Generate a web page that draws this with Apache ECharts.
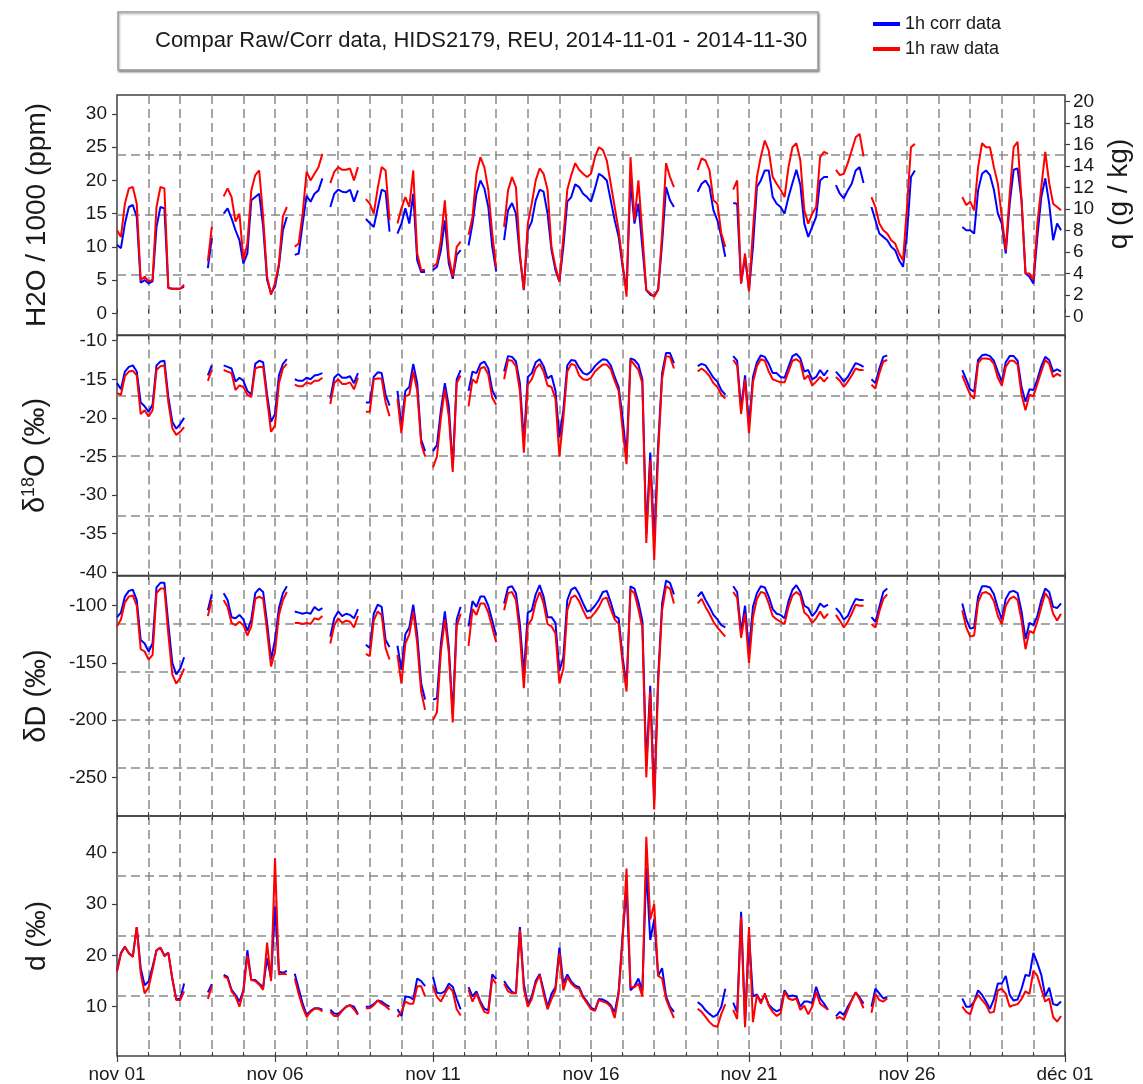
<!DOCTYPE html>
<html>
<head>
<meta charset="utf-8">
<script src="https://cdn.jsdelivr.net/npm/echarts@6/dist/echarts.min.js"></script>
<style>
  html, body { margin: 0; padding: 0; background: #ffffff; }
  #chart { width: 1143px; height: 1084px; }
</style>
</head>
<body>
<div id="chart"></div>
<script>
// Hourly station record resampled to one value every 3 hours, 1 Nov 00:00 -> 30 Nov 21:00.
// One row of 8 values per day; null = no measurement.
const STEP_HOURS = 3;
const dayLabels = ['nov 01', 'nov 06', 'nov 11', 'nov 16', 'nov 21', 'nov 26', 'déc 01'];
const h2oTicks = [0, 5, 10, 15, 20, 25, 30];
const qTicks = [0, 2, 4, 6, 8, 10, 12, 14, 16, 18, 20];
const d18oTicks = [-40, -35, -30, -25, -20, -15, -10];
const dDTicks = [-250, -200, -150, -100];
const dexTicks = [10, 20, 30, 40];

// H2O / 1000 (ppm)
const h2oCorr = [
  10.3, 9.8, 13.5, 16.0, 16.3, 14.5, 4.6, 5.0,
  4.5, 4.8, 13.0, 16.0, 15.8, 3.8, 3.7, 3.7,
  3.7, 4.0, null, null, null, null, null, 6.8,
  11.3, null, null, 15.0, 15.8, 14.3, 12.5, 11.0,
  7.5, 9.0, 17.0, 17.5, 18.0, 13.0, 5.0, 3.0,
  4.0, 7.2, 12.5, 14.5, null, 8.8, 9.0, 13.5,
  17.7, 16.8, 18.0, 18.5, 20.3, null, 16.0, 18.0,
  18.6, 18.3, 18.2, 18.6, 16.8, 18.5, null, 14.2,
  13.6, 13.0, 15.8, 18.6, 18.3, 12.3, null, 12.0,
  13.5, 15.8, 13.5, 18.0, 8.0, 6.2, 6.2, null,
  6.5, 7.0, 9.5, 14.0, 7.5, 5.2, 8.8, 9.5,
  null, 10.2, 13.5, 18.0, 20.0, 18.8, 16.0, 10.0,
  6.3, null, 11.0, 15.5, 16.6, 15.0, 8.5, 3.5,
  12.5, 13.8, 17.0, 18.6, 18.3, 15.0, 9.5, 6.5,
  4.8, 10.0, 16.8, 17.5, 19.4, 19.0, 18.0, 17.5,
  16.8, 18.8, 21.0, 20.6, 20.0, 17.0, 14.0, 11.5,
  7.0, 3.5, 20.0, 13.5, 16.5, 10.0, 3.5, 2.8,
  2.6, 3.6, 10.5, 19.0, 17.0, 16.0, null, null,
  null, null, null, 18.3, 19.5, 20.0, 19.0, 15.5,
  14.0, 11.5, 8.5, null, 16.6, 16.5, 4.5, 8.5,
  3.5, 10.0, 19.0, 20.0, 21.5, 21.5, 17.5, 16.5,
  16.0, 15.0, 17.5, 19.6, 21.6, 19.3, 13.5, 11.5,
  13.0, 14.5, 20.0, 20.5, 20.5, null, 19.3, 18.0,
  17.3, 18.5, 19.5, 21.5, 22.0, 19.6, null, 16.0,
  14.0, 12.0, 11.5, 11.0, 10.0, 9.5, 8.0, 7.0,
  12.0, 20.5, 21.5, null, null, null, null, null,
  null, null, null, null, null, null, 13.0, 12.5,
  12.5, 12.0, 18.5, 21.0, 21.5, 20.8, 18.6, 15.0,
  13.5, 9.0, 16.5, 21.6, 21.8, 17.0, 6.0, 5.5,
  4.5, 11.5, 17.5, 20.3, 16.5, 11.0, 13.5, 12.5
];
const h2oRaw = [
  12.5, 11.5, 16.5, 18.8, 19.0, 16.5, 5.0, 5.5,
  4.8, 5.0, 16.0, 19.0, 18.8, 3.8, 3.7, 3.7,
  3.7, 4.3, null, null, null, null, null, 7.8,
  13.0, null, null, 17.6, 18.8, 17.5, 13.8, 15.0,
  8.0, 10.5, 18.5, 20.8, 21.5, 14.5, 5.5, 2.8,
  4.5, 7.5, 14.6, 16.0, null, 10.0, 10.5, 15.0,
  21.3, 20.0, 21.0, 22.0, 24.0, null, 19.6, 21.3,
  22.0, 21.6, 21.6, 21.8, 20.0, 22.0, null, 17.2,
  16.5, 15.0, 18.8, 22.0, 21.5, 14.0, null, 13.5,
  15.8, 17.5, 16.0, 21.5, 9.0, 6.5, 6.5, null,
  7.0, 7.5, 11.0, 17.0, 8.5, 5.5, 10.0, 10.8,
  null, 11.8, 14.5, 21.0, 23.5, 22.0, 18.6, 12.0,
  6.8, null, 13.0, 18.5, 20.5, 19.0, 9.0, 3.5,
  13.5, 16.5, 20.0, 21.8, 21.0, 18.6, 10.0, 7.0,
  4.8, 11.5, 18.6, 20.8, 22.6, 21.6, 21.0, 20.5,
  21.0, 23.5, 25.0, 24.6, 23.0, 19.5, 16.0, 12.5,
  7.5, 2.5, 23.5, 14.0, 20.0, 12.0, 3.5, 3.0,
  2.5, 3.5, 12.0, 22.6, 20.5, 19.0, null, null,
  null, null, null, 21.6, 23.3, 23.0, 21.5, 17.0,
  16.5, 12.0, 10.0, null, 18.6, 20.0, 4.5, 9.0,
  3.3, 12.5, 20.5, 23.6, 26.0, 24.5, 20.5, 19.5,
  18.6, 17.5, 22.0, 25.0, 25.6, 23.0, 15.5, 13.5,
  15.0, 16.0, 23.5, 24.3, 24.0, null, 21.6, 20.8,
  21.0, 22.6, 24.5, 26.5, 27.0, 23.6, null, 17.5,
  16.0, 13.5, 12.5, 12.0, 11.0, 10.5, 9.0, 8.0,
  16.0, 25.0, 25.5, null, null, null, null, null,
  null, null, null, null, null, null, 17.5, 16.3,
  16.8, 15.5, 22.0, 25.6, 25.0, 25.0, 22.0, 19.5,
  14.5, 9.5, 18.0, 25.0, 25.8, 17.0, 6.0, 6.0,
  5.0, 13.5, 19.0, 24.3, 19.6, 16.5, 16.0, 15.5
];

// delta 18O (permil)
const d18oCorr = [
  -15.5, -16.3, -14.0, -13.4, -13.2, -14.0, -18.0, -18.5,
  -19.2, -18.3, -13.2, -12.7, -12.6, -17.3, -20.5, -21.4,
  -20.8, -20.0, null, null, null, null, null, -14.5,
  -13.2, null, null, -13.2, -13.4, -13.6, -15.3, -14.8,
  -15.2, -16.5, -17.0, -13.0, -12.6, -12.8, -17.0, -20.5,
  -19.5, -14.5, -13.0, -12.4, null, -15.0, -15.2, -15.2,
  -14.8, -15.0, -14.5, -14.4, -14.2, null, -17.5, -14.8,
  -14.3, -14.8, -14.8, -14.6, -15.5, -14.2, null, -18.0,
  -18.0, -14.7, -14.1, -14.2, -17.0, -18.4, null, -16.5,
  -21.1, -16.5, -16.0, -13.0, -15.5, -22.8, -24.3, null,
  -24.3, -23.5, -19.0, -15.5, -18.5, -26.5, -15.0, -13.8,
  null, -16.5, -14.0, -14.2, -13.0, -12.7, -13.6, -16.4,
  -17.5, null, -14.0, -12.0, -12.1, -12.7, -15.5, -23.0,
  -14.7, -14.2, -12.8, -12.4, -13.3, -14.9, -14.5, -16.5,
  -22.5, -19.0, -13.2, -12.5, -12.6, -13.5, -14.2, -14.4,
  -14.0, -13.3, -12.8, -12.4, -12.5, -13.2, -14.7, -16.0,
  -20.0, -25.0, -12.3, -12.5, -13.1, -15.0, -35.0, -24.5,
  -36.0, -23.5, -14.2, -11.6, -11.6, -12.9, null, null,
  null, null, null, -13.3, -13.0, -13.2, -14.0, -14.8,
  -15.3, -16.4, -17.0, null, -12.0, -12.6, -18.8, -14.5,
  -21.0, -14.7, -12.8, -11.9, -12.1, -13.0, -14.2, -14.2,
  -14.7, -14.8, -13.4, -12.0, -11.7, -12.3, -14.0, -13.8,
  -15.0, -14.7, -13.8, -14.5, -13.8, null, -14.0, -14.6,
  -15.3, -14.7, -13.8, -12.9, -13.1, -13.4, null, -15.0,
  -15.5, -13.6, -12.1, -11.9, null, null, null, null,
  null, null, null, null, null, null, null, null,
  null, null, null, null, null, null, -13.8, -15.0,
  -16.3, -16.6, -12.5, -11.9, -11.8, -12.0, -12.6, -14.0,
  -15.3, -12.8, -12.0, -12.0, -12.6, -16.0, -17.9, -16.3,
  -16.4, -15.0, -13.3, -12.1, -12.5, -14.0, -13.7, -14.0
];
const d18oRaw = [
  -16.8, -17.0, -14.6, -14.0, -13.9, -14.5, -19.5, -19.0,
  -19.8, -19.0, -13.8, -13.3, -13.2, -18.0, -21.3, -22.2,
  -21.8, -21.2, null, null, null, null, null, -15.2,
  -13.8, null, null, -13.8, -14.0, -14.2, -16.4, -15.8,
  -16.0, -17.0, -17.3, -13.6, -13.4, -13.4, -17.6, -21.8,
  -21.0, -15.5, -13.6, -13.0, null, -15.7, -15.9, -15.9,
  -15.4, -15.6, -15.2, -15.2, -14.8, null, -18.2, -15.5,
  -15.0, -15.6, -15.6, -15.4, -16.3, -14.8, null, -19.2,
  -19.2, -15.0, -14.9, -14.9, -18.0, -19.8, null, -17.5,
  -22.0, -17.2, -17.0, -14.0, -16.5, -23.3, -25.0, null,
  -26.4, -25.0, -20.0, -16.3, -19.8, -27.0, -15.5, -14.5,
  null, -18.5, -15.0, -15.5, -13.6, -13.4, -14.4, -17.4,
  -18.3, null, -15.0, -12.5, -12.6, -13.3, -16.5, -24.5,
  -15.7, -15.0, -13.6, -13.0, -14.0, -15.8, -16.0, -17.5,
  -25.0, -20.0, -14.0, -13.0, -13.2, -14.5, -15.0, -15.1,
  -14.8, -14.0, -13.5, -13.1, -13.1, -13.7, -15.2, -16.5,
  -21.5, -26.0, -12.5, -13.1, -13.8, -15.5, -36.2, -25.5,
  -38.4, -24.6, -14.9, -12.0, -12.1, -13.6, null, null,
  null, null, null, -14.0, -13.6, -14.0, -14.6, -15.5,
  -16.0, -17.0, -17.5, null, -12.5, -13.2, -19.5, -15.0,
  -22.0, -15.4, -13.3, -12.4, -12.6, -14.0, -15.0, -15.2,
  -15.4, -15.4, -14.0, -12.6, -12.4, -12.8, -15.0, -14.5,
  -15.8, -15.3, -14.7, -15.3, -14.7, null, -14.7, -15.2,
  -16.0, -15.3, -14.5, -13.6, -13.8, -13.8, null, -15.7,
  -16.2, -14.2, -12.7, -12.5, null, null, null, null,
  null, null, null, null, null, null, null, null,
  null, null, null, null, null, null, -14.5, -15.8,
  -17.0, -17.5, -12.9, -12.3, -12.3, -12.4, -13.0, -14.8,
  -15.8, -13.4, -12.6, -12.6, -13.1, -17.0, -19.0, -17.0,
  -17.2, -15.6, -14.0, -12.5, -13.0, -14.7, -14.3, -14.6
];

// delta D (permil)
const dDCorr = [
  -110, -106, -92, -87, -86, -95, -130, -133,
  -140, -133, -84, -80, -80, -116, -150, -160,
  -155, -145, null, null, null, null, null, -104,
  -90, null, null, -89, -95, -110, -111, -108,
  -112, -122, -112, -89, -85, -88, -115, -147,
  -130, -102, -89, -83, null, -105, -106, -107,
  -106, -107, -101, -104, -102, null, -127, -111,
  -105, -109, -107, -108, -111, -103, null, -134,
  -137, -107, -99, -101, -130, -136, null, -135,
  -156, -125, -119, -99, -125, -168, -182, null,
  -182, -181, -133, -105, -136, -195, -112, -101,
  null, -118, -96, -101, -92, -92, -100, -113,
  -126, null, -98, -84, -83, -89, -116, -160,
  -106, -104, -90, -82, -92, -110, -110, -115,
  -157, -145, -95, -86, -84, -90, -98, -105,
  -104, -100, -95, -88, -87, -97, -109, -111,
  -145, -170, -83, -85, -97, -113, -240, -170,
  -270, -162, -98, -78, -80, -90, null, null,
  null, null, null, -92, -88, -95, -101, -108,
  -112, -117, -119, null, -83, -88, -123, -100,
  -140, -101, -89, -83, -84, -92, -103, -107,
  -108, -111, -96, -86, -82, -88, -100, -102,
  -109, -105, -98, -101, -99, null, -102, -106,
  -112, -109, -101, -94, -95, -95, null, -110,
  -114, -101, -88, -85, null, null, null, null,
  null, null, null, null, null, null, null, null,
  null, null, null, null, null, null, -98, -112,
  -120, -119, -92, -83, -83, -84, -90, -102,
  -112, -94, -88, -87, -89, -105, -129, -115,
  -117, -109, -95, -85, -88, -101, -102, -98
];
const dDRaw = [
  -118, -112, -97, -92, -91, -100, -138, -140,
  -147, -143, -89, -85, -85, -125, -160, -168,
  -163, -155, null, null, null, null, null, -109,
  -95, null, null, -95, -101, -115, -117, -114,
  -117, -126, -118, -94, -92, -94, -122, -153,
  -140, -108, -95, -88, null, -115, -115, -116,
  -115, -116, -111, -112, -109, null, -133, -117,
  -111, -115, -113, -114, -119, -109, null, -142,
  -144, -113, -105, -108, -137, -147, null, -143,
  -168, -133, -125, -105, -133, -175, -191, null,
  -200, -193, -140, -112, -141, -202, -118, -107,
  null, -135, -103, -108, -98, -98, -106, -119,
  -132, null, -104, -89, -88, -95, -125, -172,
  -117, -112, -97, -88, -98, -116, -118, -124,
  -168, -155, -104, -93, -91, -96, -104, -111,
  -110, -106, -101, -94, -93, -103, -112, -116,
  -150, -175, -86, -89, -103, -119, -250, -175,
  -278, -168, -104, -83, -85, -98, null, null,
  null, null, null, -98, -94, -101, -107, -114,
  -119, -123, -127, null, -88, -93, -128, -107,
  -150, -110, -94, -88, -89, -98, -109, -112,
  -114, -116, -101, -91, -88, -91, -106, -109,
  -115, -111, -105, -111, -107, null, -108, -113,
  -119, -114, -107, -99, -100, -100, null, -116,
  -119, -105, -94, -90, null, null, null, null,
  null, null, null, null, null, null, null, null,
  null, null, null, null, null, null, -104, -119,
  -127, -126, -97, -89, -88, -90, -96, -109,
  -116, -100, -94, -92, -95, -113, -138, -122,
  -124, -114, -101, -89, -94, -107, -113, -107
];

// deuterium excess d (permil)
const dexCorr = [
  17.1, 20.5, 21.7, 20.4, 19.8, 25.5, 17.5, 14.2,
  14.9, 17.8, 21.0, 21.5, 20.0, 20.5, 15.5, 11.5,
  11.5, 14.5, null, null, null, null, null, 12.8,
  14.4, null, null, 16.2, 15.8, 13.3, 12.3, 11.0,
  13.2, 21.0, 15.2, 15.2, 14.5, 13.8, 19.5, 15.5,
  29.5, 16.8, 16.6, 17.0, null, 16.4, 13.5, 10.6,
  8.4, 9.2, 9.7, 9.7, 9.4, null, 9.4, 8.7,
  8.6, 9.3, 10.0, 10.3, 10.0, 8.6, null, 10.0,
  10.0, 10.5, 11.2, 11.0, 10.4, 10.0, null, 9.5,
  8.2, 12.0, 11.9, 11.4, 15.5, 15.0, 14.0, null,
  15.8, 12.7, 12.6, 13.0, 14.5, 13.9, 11.5, 9.5,
  null, 13.8, 12.0, 13.0, 11.0, 9.6, 9.3, 16.3,
  15.4, null, 15.0, 13.8, 12.9, 12.6, 25.5, 14.5,
  10.4, 12.0, 15.0, 16.4, 13.2, 10.0, 12.5, 13.8,
  21.5, 14.5, 16.3, 14.9, 14.1, 13.8, 12.0, 11.0,
  9.8, 9.4, 11.5, 11.4, 11.0, 10.3, 8.9, 13.0,
  24.0, 33.0, 13.2, 14.0, 15.5, 13.1, 37.0, 23.0,
  27.0, 16.0, 17.5, 12.0, 10.0, 9.0, null, null,
  null, null, null, 10.9, 10.3, 9.3, 8.6, 8.0,
  8.5, 10.0, 13.5, null, 10.8, 8.9, 28.5, 7.0,
  24.0, 12.0, 12.4, 11.0, 12.3, 10.4, 9.6, 9.1,
  9.5, 13.2, 12.0, 12.2, 12.0, 10.0, 11.0, 11.0,
  10.7, 13.9, 11.6, 10.6, 9.4, null, 8.1, 9.0,
  8.4, 10.0, 11.3, 12.8, 11.8, 10.6, null, 10.0,
  13.5, 12.6, 11.6, 11.9, null, null, null, null,
  null, null, null, null, null, null, null, null,
  null, null, null, null, null, null, 11.6, 10.0,
  10.0, 11.0, 13.2, 12.3, 11.0, 9.6, 11.5, 14.5,
  14.5, 16.0, 12.3, 11.2, 11.4, 13.5, 16.2, 16.0,
  20.5, 18.5, 16.2, 12.0, 13.7, 10.5, 10.3, 11.0
];
const dexRaw = [
  16.8, 20.3, 21.7, 20.4, 19.7, 25.5, 16.5, 12.6,
  13.8, 17.2, 21.0, 21.5, 19.8, 20.5, 15.5, 11.3,
  11.3, 13.0, null, null, null, null, null, 11.5,
  14.0, null, null, 15.9, 15.5, 13.0, 12.0, 10.0,
  13.0, 20.0, 15.2, 15.0, 14.3, 13.3, 22.5, 15.0,
  38.9, 16.3, 16.4, 16.3, null, 15.5, 12.5, 9.9,
  8.0, 9.0, 9.6, 9.6, 9.1, null, 9.0, 8.2,
  8.2, 9.2, 10.0, 10.3, 9.5, 8.4, null, 9.7,
  9.7, 10.3, 11.2, 10.6, 10.1, 9.4, null, 8.0,
  9.0, 11.0, 10.6, 10.6, 14.0, 14.0, 12.0, null,
  14.0, 11.9, 11.0, 12.5, 13.9, 13.0, 9.5, 8.3,
  null, 13.3, 11.0, 12.6, 10.6, 9.0, 8.7, 15.5,
  14.5, null, 14.5, 13.0, 12.6, 12.6, 25.0, 13.5,
  10.0, 11.5, 14.5, 16.2, 12.5, 9.5, 11.5, 13.2,
  20.5, 13.2, 15.8, 14.5, 13.8, 13.5, 11.8, 10.7,
  9.5, 9.2, 11.3, 11.0, 10.7, 10.0, 7.8, 12.5,
  23.0, 36.9, 13.8, 13.8, 14.5, 12.0, 43.1, 27.0,
  30.0, 16.0, 15.5, 11.5, 9.6, 7.8, null, null,
  null, null, null, 9.6, 9.0, 8.0, 7.0, 6.3,
  6.1, 8.6, 10.5, null, 9.4, 7.6, 27.5, 6.0,
  25.5, 7.0, 12.3, 10.6, 12.6, 10.2, 9.0, 8.2,
  8.7, 12.9, 11.6, 11.3, 11.6, 9.4, 10.2, 8.5,
  10.0, 12.9, 10.6, 10.0, 9.4, null, 7.7, 8.0,
  7.5, 9.4, 11.3, 12.8, 11.5, 9.7, null, 8.8,
  12.5, 11.3, 11.0, 11.6, null, null, null, null,
  null, null, null, null, null, null, null, null,
  null, null, null, null, null, null, 10.0, 9.0,
  8.5, 11.0, 12.3, 11.3, 10.4, 8.8, 9.0, 13.2,
  13.5, 12.5, 10.0, 10.3, 10.5, 11.5, 13.0, 12.5,
  17.0, 16.0, 13.4, 11.0, 11.6, 8.0, 7.1, 8.2
];

// ---------------------------------------------------------------------------
const FONT = "'Liberation Sans', Arial, Helvetica, sans-serif";
const INK = '#1a1a1a';
const FRAME = '#404040';
const DASH = { color: '#8a8a8a', width: 1.5, type: [9, 5] };
const CORR_COLOR = '#0000ff';
const RAW_COLOR = '#ff0000';

const gridTops = [95, 335.5, 576, 816];
const gridHeight = 240;

const panels = [
  { corr: h2oCorr, raw: h2oRaw, min: -3.27, max: 32.86, ticks: h2oTicks, rows: 4,
    name: 'H2O / 1000 (ppm)', nameSize: 28 },
  { corr: d18oCorr, raw: d18oRaw, min: -40.41, max: -9.33, ticks: d18oTicks, rows: 4,
    name: '{a|δ}{s|18}{a|O (‰)}', nameSize: 29 },
  { corr: dDCorr, raw: dDRaw, min: -283.8, max: -74.0, ticks: dDTicks, rows: 5,
    name: 'δD (‰)', nameSize: 29 },
  { corr: dexCorr, raw: dexRaw, min: 0.4, max: 47.15, ticks: dexTicks, rows: 4,
    name: 'd (‰)', nameSize: 28 }
];

function toPoints(values) {
  return values.map((v, i) => [i * STEP_HOURS / 24, v]);
}

const grids = [];
const xAxes = [];
const yAxes = [];
const series = [];

panels.forEach((p, k) => {
  grids.push({
    left: 117, right: 78, top: gridTops[k], height: gridHeight,
    show: true, borderColor: FRAME, borderWidth: 1.5, backgroundColor: 'transparent'
  });

  // daily dashed grid + inner ticks at the bottom edge
  const xMain = xAxes.length;
  xAxes.push({
    gridIndex: k, type: 'value', min: 0, max: 30, interval: 1, position: 'bottom',
    axisLine: { show: false },
    axisTick: { show: true, inside: true, length: 4, lineStyle: { color: FRAME, width: 1 } },
    axisLabel: { show: false },
    splitLine: { show: true, showMinLine: false, showMaxLine: false, lineStyle: DASH }
  });
  // inner ticks at the top edge
  xAxes.push({
    gridIndex: k, type: 'value', min: 0, max: 30, interval: 1, position: 'top',
    axisLine: { show: false },
    axisTick: { show: true, inside: true, length: 4, lineStyle: { color: FRAME, width: 1 } },
    axisLabel: { show: false },
    splitLine: { show: false }
  });

  const yMain = yAxes.length;
  yAxes.push({
    gridIndex: k, type: 'value', min: p.min, max: p.max, position: 'left',
    axisLine: { show: false },
    axisTick: { show: true, customValues: p.ticks, length: 5, lineStyle: { color: FRAME, width: 1.2 } },
    axisLabel: { customValues: p.ticks, fontSize: 19, color: INK, margin: 10, fontFamily: FONT },
    splitLine: { show: false },
    name: p.name, nameLocation: 'middle', nameRotate: 90, nameGap: 66,
    nameTextStyle: {
      fontSize: p.nameSize, color: INK, fontFamily: FONT,
      rich: {
        a: { fontSize: p.nameSize, color: INK, fontFamily: FONT },
        s: { fontSize: 18, color: INK, fontFamily: FONT, padding: [0, 0, 13, 0] }
      }
    }
  });

  // horizontal dashed grid dividing the panel in equal bands
  yAxes.push({
    gridIndex: k, type: 'value', min: 0, max: p.rows, interval: 1, position: 'left',
    axisLine: { show: false }, axisTick: { show: false }, axisLabel: { show: false },
    splitLine: { show: true, showMinLine: false, showMaxLine: false, lineStyle: DASH }
  });

  if (k === 0) {
    yAxes.push({
      gridIndex: 0, type: 'value', min: -1.70, max: 20.62, position: 'right',
      axisLine: { show: false },
      axisTick: { show: true, customValues: qTicks, length: 5, lineStyle: { color: FRAME, width: 1.2 } },
      axisLabel: { customValues: qTicks, fontSize: 19, color: INK, margin: 8, fontFamily: FONT },
      splitLine: { show: false },
      name: 'q (g / kg)', nameLocation: 'middle', nameRotate: 90, nameGap: 36,
      nameTextStyle: { fontSize: 28, color: INK, fontFamily: FONT, padding: [0, 0, 0, 42] }
    });
  }

  series.push({
    name: '1h corr data', type: 'line', xAxisIndex: xMain, yAxisIndex: yMain,
    data: toPoints(p.corr), showSymbol: false, symbol: 'none', connectNulls: false,
    lineStyle: { color: CORR_COLOR, width: 2 }, itemStyle: { color: CORR_COLOR }, z: 3
  });
  series.push({
    name: '1h raw data', type: 'line', xAxisIndex: xMain, yAxisIndex: yMain,
    data: toPoints(p.raw), showSymbol: false, symbol: 'none', connectNulls: false,
    lineStyle: { color: RAW_COLOR, width: 2 }, itemStyle: { color: RAW_COLOR }, z: 4
  });
});

// date labels under the last panel
xAxes.push({
  gridIndex: panels.length - 1, type: 'value', min: 0, max: 30, interval: 5, position: 'bottom',
  axisLine: { show: false },
  axisTick: { show: true, inside: false, length: 6, lineStyle: { color: FRAME, width: 1.2 } },
  axisLabel: {
    fontSize: 19, color: INK, margin: 9, fontFamily: FONT,
    formatter: v => dayLabels[Math.round(v / 5)]
  },
  splitLine: { show: false }
});

const option = {
  animation: false,
  backgroundColor: '#ffffff',
  textStyle: { fontFamily: FONT },
  title: {
    text: 'Compar Raw/Corr data, HIDS2179, REU, 2014-11-01 - 2014-11-30',
    left: 118, top: 12,
    padding: [18, 11, 18, 37],
    borderColor: '#9a9a9a', borderWidth: 1.5, backgroundColor: '#ffffff',
    shadowColor: 'rgba(0,0,0,0.35)', shadowBlur: 2, shadowOffsetX: 1, shadowOffsetY: 1.5,
    textStyle: { fontSize: 22, fontWeight: 'normal', color: INK, fontFamily: FONT }
  },
  legend: {
    orient: 'vertical', left: 868, top: 10,
    icon: 'rect', itemWidth: 27, itemHeight: 4, itemGap: 7,
    textStyle: { fontSize: 18, color: INK, fontFamily: FONT },
    data: ['1h corr data', '1h raw data']
  },
  grid: grids,
  xAxis: xAxes,
  yAxis: yAxes,
  series: series
};

const chart = echarts.init(document.getElementById('chart'), null, { renderer: 'canvas' });
chart.setOption(option);
</script>
</body>
</html>
